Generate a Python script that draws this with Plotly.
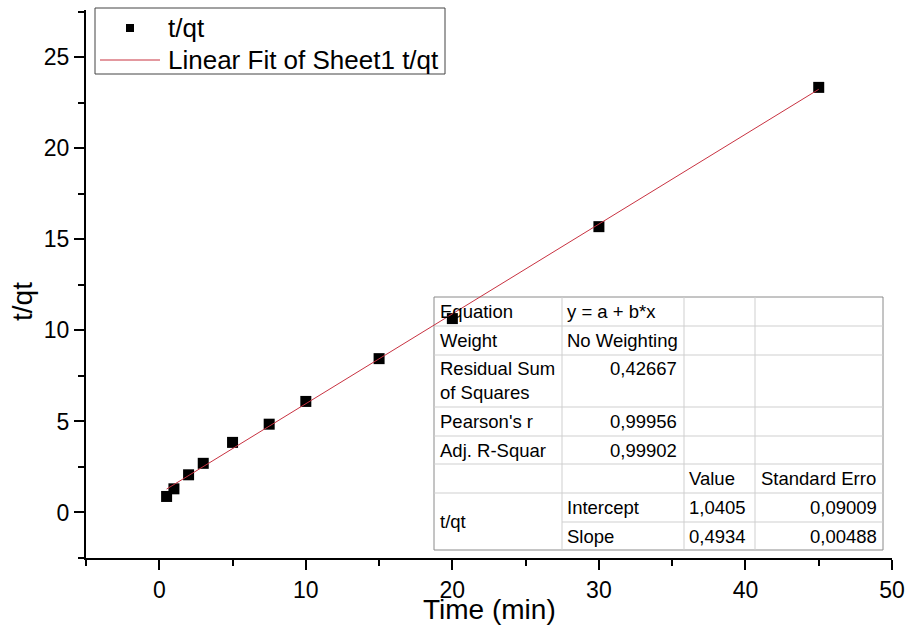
import plotly.graph_objects as go

# ---- data ----
time_min = [0.5, 1, 2, 3, 5, 7.5, 10, 15, 20, 30, 45]
t_over_qt = [0.88, 1.3, 2.07, 2.7, 3.85, 4.85, 6.1, 8.45, 10.65, 15.7, 23.35]
fit_intercept = 1.0405
fit_slope = 0.4934

series_name = "t/qt"
fit_name = "Linear Fit of Sheet1 t/qt"

x_ticks = [0, 10, 20, 30, 40, 50]
y_ticks = [0, 5, 10, 15, 20, 25]

table_col1 = ["Equation", "Weight", "Residual Sum<br>of Squares", "Pearson's r", "Adj. R-Squar", "", "t/qt"]
table_col2 = ["y = a + b*x", "No Weighting", "0,42667", "0,99956", "0,99902", "", "Intercept", "Slope"]
table_value = ["Value", "1,0405", "0,4934"]
table_stderr = ["Standard Erro", "0,09009", "0,00488"]

FONT = "Liberation Sans, Arial, sans-serif"
FIT_COLOR = "rgb(200,50,65)"

# ---- layout geometry (pixels) ----
W, H = 909, 628
L, R, T, B = 86, 892, 10, 558


def px(x):
    return (x - L) / (R - L)


def py(y):
    return (B - y) / (B - T)


fig = go.Figure()

fit_x = [time_min[0], time_min[-1]]
fit_y = [fit_intercept + fit_slope * v for v in fit_x]

fig.add_trace(go.Scatter(
    x=time_min, y=t_over_qt, mode="markers", name=series_name,
    marker=dict(symbol="square", size=11, color="black", line=dict(width=0)),
))
fig.add_trace(go.Scatter(
    x=fit_x, y=fit_y, mode="lines", name=fit_name,
    line=dict(color=FIT_COLOR, width=1),
))

shapes = []
annotations = []

# ---- legend box (drawn manually) ----
shapes.append(dict(type="rect", xref="paper", yref="paper", x0=px(95), x1=px(445),
                   y0=py(8), y1=py(74), fillcolor="white", line=dict(color="#444", width=1),
                   layer="above"))
shapes.append(dict(type="rect", xref="paper", yref="paper", x0=px(126), x1=px(134),
                   y0=py(24), y1=py(32), fillcolor="black", line=dict(width=0), layer="above"))
shapes.append(dict(type="line", xref="paper", yref="paper", x0=px(100), x1=px(160),
                   y0=py(60), y1=py(60), line=dict(color=FIT_COLOR, width=1), layer="above"))
for yy, s in [(28, series_name), (60, fit_name)]:
    annotations.append(dict(xref="paper", yref="paper", x=px(166), y=py(yy), text=s, showarrow=False,
                            xanchor="left", yanchor="middle",
                            font=dict(family=FONT, size=26, color="black")))

# ---- table ----
cols = [434, 562, 684, 755, 883]
rows = [297, 326, 355, 407, 436, 464, 493, 522, 550]
inner = "#cfcfcf"
outer = "#8a8a8a"
shapes.append(dict(type="rect", xref="paper", yref="paper", x0=px(cols[0]), x1=px(cols[-1]),
                   y0=py(rows[0]), y1=py(rows[-1]), fillcolor="white",
                   line=dict(color=outer, width=1), layer="below"))
for r in rows[1:-1]:
    x0 = cols[1] if r == rows[7] else cols[0]
    shapes.append(dict(type="line", xref="paper", yref="paper", x0=px(x0), x1=px(cols[-1]),
                       y0=py(r), y1=py(r), line=dict(color=inner, width=1), layer="below"))
for c in cols[1:-1]:
    shapes.append(dict(type="line", xref="paper", yref="paper", x0=px(c), x1=px(c),
                       y0=py(rows[0]), y1=py(rows[-1]), line=dict(color=inner, width=1), layer="below"))

TS = 18.5


def txt(x, y, s, xanchor="left", yanchor="middle"):
    annotations.append(dict(xref="paper", yref="paper", x=px(x), y=py(y), text=s, showarrow=False,
                            xanchor=xanchor, yanchor=yanchor, align="left",
                            font=dict(family=FONT, size=TS, color="black")))


def mid(i):
    return (rows[i] + rows[i + 1]) / 2


# column 1
for i in range(5):
    if i == 2:
        txt(438, rows[2] + 1, table_col1[i], yanchor="top")
    else:
        txt(438, mid(i), table_col1[i])
txt(438, (rows[6] + rows[8]) / 2, table_col1[6])
# column 2
for i, s in enumerate(table_col2):
    if not s:
        continue
    if s[0].isdigit():
        if i == 2:
            txt(679, rows[2] + 1, s, xanchor="right", yanchor="top")
        else:
            txt(679, mid(i), s, xanchor="right")
    else:
        txt(565, mid(i), s)
# value / stderr
txt(687, mid(5), table_value[0])
txt(687, mid(6), table_value[1])
txt(687, mid(7), table_value[2])
txt(759, mid(5), table_stderr[0])
txt(879, mid(6), table_stderr[1], xanchor="right")
txt(879, mid(7), table_stderr[2], xanchor="right")

# axis titles
annotations.append(dict(xref="paper", yref="paper", x=px(22), y=py(302), text="t/qt", showarrow=False,
                        textangle=-90, xanchor="center", yanchor="middle",
                        font=dict(family=FONT, size=28, color="black")))
annotations.append(dict(xref="paper", yref="paper", x=px(490), y=py(609), text="Time (min)", showarrow=False,
                        xanchor="center", yanchor="middle",
                        font=dict(family=FONT, size=28, color="black")))

axis_common = dict(
    showgrid=False, zeroline=False, showline=True, linecolor="black", linewidth=2,
    ticks="outside", ticklen=10, tickwidth=2, tickcolor="black",
    tickfont=dict(family=FONT, size=23, color="black"),
    mirror=False, automargin=False,
)

fig.update_layout(
    width=W, height=H,
    margin=dict(l=L, r=W - R, t=T, b=H - B, pad=0),
    paper_bgcolor="white", plot_bgcolor="white",
    font=dict(family=FONT, color="black"),
    xaxis=dict(range=[-5, 50], tickvals=x_ticks,
               minor=dict(dtick=5, tick0=0, ticklen=6, tickwidth=2, tickcolor="black", ticks="outside"),
               **axis_common),
    yaxis=dict(range=[-2.5, 27.6], tickvals=y_ticks,
               minor=dict(dtick=2.5, tick0=0, ticklen=6, tickwidth=2, tickcolor="black", ticks="outside"),
               **axis_common),
    shapes=shapes,
    annotations=annotations,
    showlegend=False,
)

fig.write_html("out.html", config={"displayModeBar": False},
               post_script="document.body.style.margin='0';document.body.style.overflow='hidden';")
